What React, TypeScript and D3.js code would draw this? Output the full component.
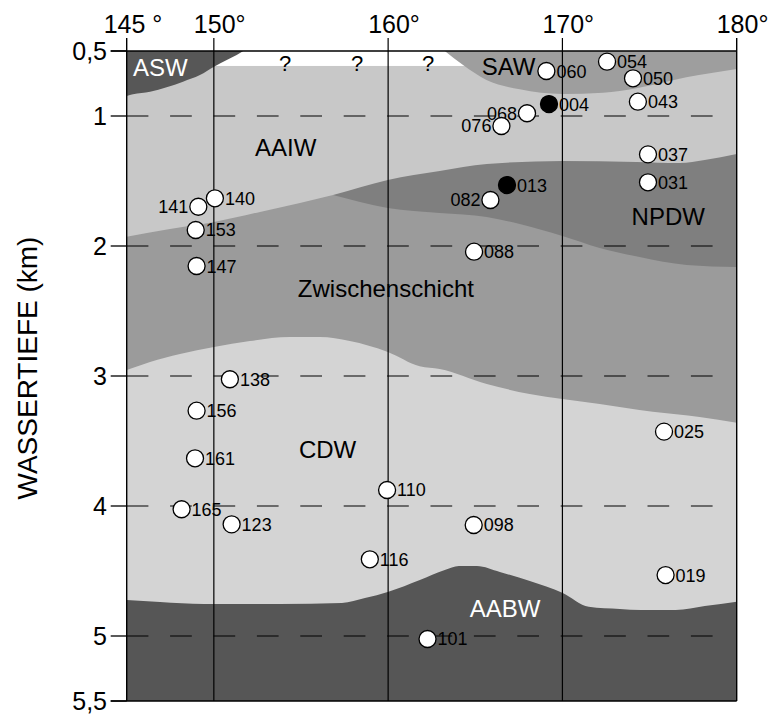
import React from "react";
import * as d3 from "d3";

// Section geometry
const W = 778;
const H = 717;
const LON_DOMAIN = [145, 180];
const DEPTH_DOMAIN = [0.5, 5.5];

// Axis ticks
const LON_TICKS = [145, 150, 160, 170, 180];
const LON_TICK_LABELS = ["145 °", "150°", "160°", "170°", "180°"];
const DEPTH_TICKS = [0.5, 1, 2, 3, 4, 5, 5.5];
const DEPTH_TICK_LABELS = ["0,5", "1", "2", "3", "4", "5", "5,5"];
const DASHED_DEPTHS = [1, 2, 3, 4, 5];
const SOLID_LONS = [150, 160, 170];

// Water-mass boundaries: [longitude °E, depth km]
const ASW_BOTTOM: [number, number][] = [
  [145.0, 0.846], [145.36, 0.833], [146.34, 0.813], [147.29, 0.779], [148.23, 0.736],
  [149.2, 0.685], [150.01, 0.621], [150.74, 0.569], [151.31, 0.531], [151.69, 0.5],
];
const AAIW_TOP = 0.615;
const SAW_BOTTOM: [number, number][] = [
  [163.25, 0.5], [164.3, 0.608], [165.64, 0.723], [167.55, 0.795], [170.0, 0.831],
  [172.33, 0.821], [174.24, 0.787], [177.11, 0.702], [180.0, 0.638],
];
const AAIW_BOTTOM: [number, number][] = [
  [145.0, 1.928], [147.48, 1.869], [150.01, 1.815], [152.65, 1.738], [154.94, 1.669],
  [156.84, 1.608], [159.98, 1.492], [162.96, 1.423], [165.66, 1.369], [170.0, 1.346],
  [174.26, 1.354], [176.73, 1.362], [178.16, 1.338], [180.0, 1.292],
];
const NPDW_BOTTOM: [number, number][] = [
  [156.84, 1.608], [158.39, 1.662], [159.98, 1.708], [162.96, 1.746], [165.66, 1.777],
  [167.55, 1.831], [170.0, 1.923], [172.14, 2.015], [174.43, 2.085], [177.13, 2.146],
  [180.0, 2.162],
];
const CDW_TOP: [number, number][] = [
  [145.0, 2.954], [146.34, 2.892], [148.06, 2.831], [150.01, 2.777], [152.07, 2.731],
  [154.36, 2.7], [156.08, 2.7], [157.8, 2.731], [159.98, 2.815], [161.81, 2.925],
  [162.96, 2.946], [165.66, 3.062], [168.12, 3.138], [170.0, 3.177], [172.14, 3.215],
  [175.18, 3.275], [177.87, 3.315], [180.0, 3.359],
];
const AABW_TOP: [number, number][] = [
  [145.0, 4.723], [146.91, 4.738], [149.42, 4.754], [153.79, 4.754], [157.35, 4.746],
  [158.67, 4.708], [160.02, 4.659], [161.82, 4.569], [163.25, 4.492], [164.06, 4.462],
  [165.09, 4.462], [166.41, 4.508], [168.13, 4.577], [170.02, 4.669], [171.51, 4.775],
  [173.29, 4.792], [174.49, 4.8], [176.5, 4.8], [178.17, 4.769], [180.0, 4.736],
];

// Stations
const STATION_IDS = [
  "060", "054", "050", "004", "043", "068", "076", "140", "141", "153", "147",
  "037", "031", "013", "082", "088", "138", "156", "161", "165", "123", "110",
  "116", "025", "098", "019", "101",
];
const STATION_LON = [
  169.08, 172.56, 174.05, 169.23, 174.33, 167.97, 166.5, 150.06, 149.11, 148.96, 149.01,
  174.91, 174.91, 166.82, 165.87, 164.93, 150.92, 149.01, 148.92, 148.15, 151.02, 159.94,
  158.95, 175.83, 164.91, 175.92, 162.26,
];
const STATION_DEPTH = [
  0.654, 0.582, 0.71, 0.908, 0.89, 0.979, 1.077, 1.633, 1.698, 1.877, 2.154,
  1.295, 1.51, 1.531, 1.646, 2.044, 3.025, 3.267, 3.633, 4.025, 4.141, 3.877,
  4.41, 3.428, 4.146, 4.531, 5.023,
];
const STATION_FILLED = ["004", "013"];
const LABEL_LEFT = ["068", "076", "082", "141"];

// Water-mass names: [name, lon, depth (baseline), colour]
const MASS_NAMES: [string, number, number, string][] = [
  ["ASW", 145.36, 0.692, "#ffffff"],
  ["SAW", 165.37, 0.685, "#000000"],
  ["AAIW", 152.36, 1.308, "#000000"],
  ["NPDW", 173.97, 1.838, "#000000"],
  ["Zwischenschicht", 154.82, 2.392, "#000000"],
  ["CDW", 154.88, 3.631, "#000000"],
  ["AABW", 164.68, 4.854, "#ffffff"],
];
const UNKNOWN_LONS = [154.09, 158.22, 162.29];

const FONT = "'Liberation Sans', Arial, Helvetica, sans-serif";

export default function App() {
  const x = d3.scaleLinear().domain(LON_DOMAIN).range([126.7, 736.7]);
  const y = d3.scaleLinear().domain(DEPTH_DOMAIN).range([51, 701]);
  const [x0, x1] = x.range();
  const [y0, y1] = y.range();

  const areaDown = (pts: [number, number][], base: number) =>
    d3
      .area<[number, number]>()
      .x((d) => x(d[0]))
      .y0(y(base))
      .y1((d) => y(d[1]))
      .curve(d3.curveMonotoneX)(pts) as string;

  const top = DEPTH_DOMAIN[0];
  const bottom = DEPTH_DOMAIN[1];

  return (
    <svg
      width={W}
      height={H}
      style={{ position: "absolute", left: 0, top: 0, background: "#fff" }}
      fontFamily={FONT}
    >
      {/* layers */}
      <rect x={x0} y={y0} width={x1 - x0} height={y1 - y0} fill="#9b9b9b" />
      <path d={areaDown(NPDW_BOTTOM, top)} fill="#7f7f7f" />
      <path d={areaDown(AAIW_BOTTOM, top)} fill="#c8c8c8" />
      <path d={areaDown(CDW_TOP, bottom)} fill="#d4d4d4" />
      <path d={areaDown(AABW_TOP, bottom)} fill="#565656" />
      <rect x={x0} y={y0} width={x1 - x0} height={y(AAIW_TOP) - y0} fill="#ffffff" />
      <path d={areaDown(ASW_BOTTOM, top)} fill="#575757" />
      <path d={areaDown(SAW_BOTTOM, top)} fill="#9e9e9e" />

      {/* dashed depth lines */}
      {DASHED_DEPTHS.map((d) => (
        <line
          key={"dd" + d}
          x1={x0}
          x2={717}
          y1={y(d)}
          y2={y(d)}
          stroke="#000"
          strokeWidth={1.2}
          strokeDasharray="21.7 21.7"
        />
      ))}

      {/* longitude lines */}
      {SOLID_LONS.map((l) => (
        <line key={"sl" + l} x1={x(l)} x2={x(l)} y1={y0 - 13} y2={y1} stroke="#000" strokeWidth={1.2} />
      ))}

      {/* frame */}
      <line x1={x0} x2={x0} y1={y0 - 13} y2={y1} stroke="#000" strokeWidth={1.4} />
      <line x1={x1} x2={x1} y1={y0 - 13} y2={y1} stroke="#000" strokeWidth={1.4} />
      <line x1={x0 - 16} x2={x1} y1={y0} y2={y0} stroke="#000" strokeWidth={1.4} />
      <line x1={x0 - 16} x2={x1} y1={y1} y2={y1} stroke="#000" strokeWidth={1.4} />
      {DEPTH_TICKS.map((d) => (
        <line key={"yt" + d} x1={x0 - 16} x2={x0} y1={y(d)} y2={y(d)} stroke="#000" strokeWidth={1.3} />
      ))}

      {/* tick labels */}
      {LON_TICKS.map((l, i) => (
        <text key={"xl" + l} x={x(l) - (i === 0 ? 23 : 20)} y={33} fontSize={25} fill="#000">
          {LON_TICK_LABELS[i]}
        </text>
      ))}
      {DEPTH_TICKS.map((d, i) => (
        <text key={"yl" + d} x={107} y={y(d)} dy="0.36em" textAnchor="end" fontSize={25} fill="#000">
          {DEPTH_TICK_LABELS[i]}
        </text>
      ))}
      <text
        transform={`translate(37,368) rotate(-90)`}
        textAnchor="middle"
        fontSize={28}
        fill="#000"
      >
        WASSERTIEFE (km)
      </text>

      {/* water-mass names */}
      {MASS_NAMES.map(([name, lon, dep, col]) => (
        <text key={name} x={x(lon)} y={y(dep)} fontSize={24} fill={col}>
          {name}
        </text>
      ))}
      {UNKNOWN_LONS.map((l) => (
        <text key={"q" + l} x={x(l)} y={y(0.654)} textAnchor="middle" fontSize={22} fill="#000">
          ?
        </text>
      ))}

      {/* stations */}
      {STATION_IDS.map((id, i) => {
        const cx = x(STATION_LON[i]);
        const cy = y(STATION_DEPTH[i]);
        const filled = STATION_FILLED.includes(id);
        const left = LABEL_LEFT.includes(id);
        return (
          <g key={id}>
            <circle cx={cx} cy={cy} r={8.5} fill={filled ? "#000" : "#fff"} stroke="#000" strokeWidth={1.3} />
            <text
              x={left ? cx - 10 : cx + 10}
              y={cy}
              dy="0.36em"
              textAnchor={left ? "end" : "start"}
              fontSize={18}
              fill="#000"
            >
              {id}
            </text>
          </g>
        );
      })}
    </svg>
  );
}
